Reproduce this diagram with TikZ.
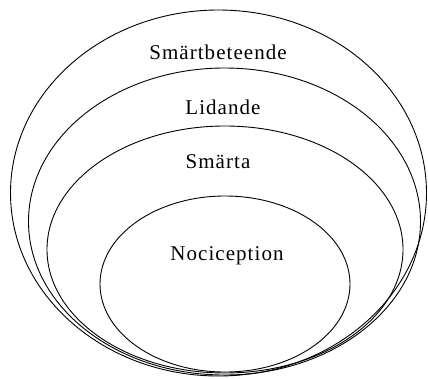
\documentclass[tikz,border=0pt]{standalone}
\usepackage{fontspec}
\setmainfont{Liberation Serif}[LetterSpace=5]
\usetikzlibrary{shapes.geometric}
\begin{document}
\begin{tikzpicture}[x=1pt,y=-1pt,
  ring/.style={draw=black,line width=0.9pt,ellipse,inner sep=0pt},
  lbl/.style={inner sep=0pt,font=\fontsize{21}{24}\selectfont}]
\useasboundingbox (0,0) rectangle (428,378);
\fill[white] (0,0) rectangle (428,378);
\node[ring,minimum width=416pt,minimum height=366pt] (beteende) at (218.5,193) {};
\node[ring,minimum width=392pt,minimum height=307pt] (lidande) at (224.5,221.5) {};
\node[ring,minimum width=356pt,minimum height=247pt] (smarta) at (225,249.5) {};
\node[ring,minimum width=250pt,minimum height=176pt] (noci) at (225,284) {};
\node[lbl] (t1) at (218,52) {Smärtbeteende};
\node[lbl] (t2) at (223,107) {Lidande};
\node[lbl] (t3) at (218,162) {Smärta};
\node[lbl] (t4) at (227,256) {Nociception};
\end{tikzpicture}
\end{document}
